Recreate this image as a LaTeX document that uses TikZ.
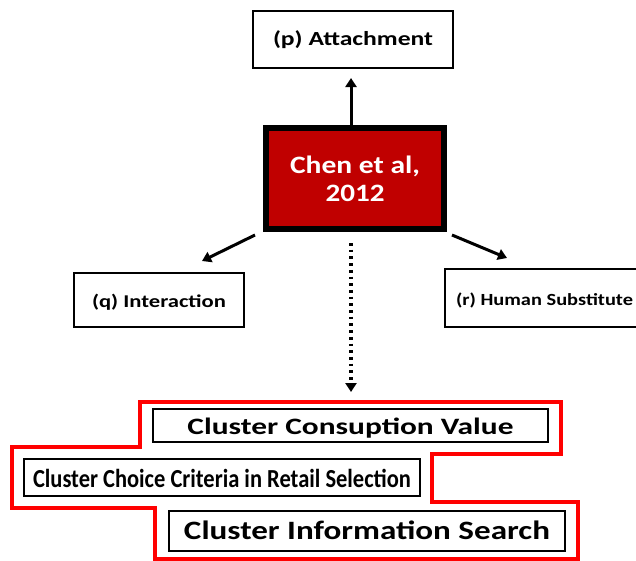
\documentclass[tikz,border=0pt]{standalone}
\usepackage{fontspec}
\setmainfont{Carlito}
\usetikzlibrary{arrows.meta,calc}
\newcommand\fitw[3]{{\fontsize{#1}{#1}\selectfont\bfseries\resizebox{#2pt}{\height}{#3}}}
\tikzset{
  box/.style={draw=black, line width=2pt, fill=white, inner sep=0pt, align=center},
  bl/.style={text height=#1, text depth=0pt},
  arr/.style={line width=3pt, -{Triangle[length=9pt,width=11pt]}},
  dotarr/.style={line width=3.5pt, dash pattern=on 2.7pt off 4pt, -{Triangle[length=9pt,width=11pt]}},
  redline/.style={draw=red, line width=4.5pt, line join=miter}
}
\begin{document}
\begin{tikzpicture}[x=1pt,y=-1pt]
\clip (0,0) rectangle (636,560);
% red outline
\draw[redline] (140,402) -- (561,402) -- (561,454) -- (432,454) -- (432,502) -- (578,502) -- (578,559) -- (155,559) -- (155,508) -- (12,508) -- (12,447) -- (140,447) -- cycle;
% nodes
\node[box, bl=11pt, minimum width=200pt, minimum height=57pt] (attach) at (353,39.5) {\fitw{20}{160}{(p) Attachment}};
\node[draw=black, line width=6pt, fill={rgb,255:red,192;green,0;blue,0}, text=white, minimum width=178pt, minimum height=101pt, inner sep=0pt, align=center, font=\fontsize{25}{28}\selectfont] (chen) at (355,178.5) {\fitw{25}{130}{Chen et al,}\\\fitw{25}{59}{2012}};
\node[box, bl=14pt, minimum width=170pt, minimum height=54pt] (inter) at (159,300) {\fitw{18}{134}{(q) Interaction}};
\node[box, bl=14pt, minimum width=199pt, minimum height=58pt] (human) at (544.5,298) {\fitw{17}{177}{(r) Human Substitute}};
\node[box, bl=17pt, minimum width=395pt, minimum height=33pt] (cons) at (350.5,425.5) {\fitw{23.5}{326}{Cluster Consuption Value}};
\node[box, bl=19pt, minimum width=396pt, minimum height=37pt] (choice) at (222,477.5) {\fitw{26}{378}{Cluster Choice Criteria in Retail Selection}};
\node[box, bl=16pt, minimum width=396pt, minimum height=40pt] (info) at (367,531) {\fitw{26.5}{366}{Cluster Information Search}};
% connectors
\draw[arr] ([shift={(-4pt,-4pt)}]chen.north) -- ([shift={(-2pt,-9pt)}]attach.south);
\draw[arr] ([shift={(-8pt,-3pt)}]chen.south west) -- ([shift={(43pt,11pt)}]inter.north);
\draw[arr] ([shift={(5pt,-3pt)}]chen.south east) -- ([shift={(-37.5pt,10pt)}]human.north);
\draw[dotarr] ([shift={(-4pt,-11pt)}]chen.south) -- ([shift={(0.5pt,16pt)}]cons.north);
\end{tikzpicture}
\end{document}
